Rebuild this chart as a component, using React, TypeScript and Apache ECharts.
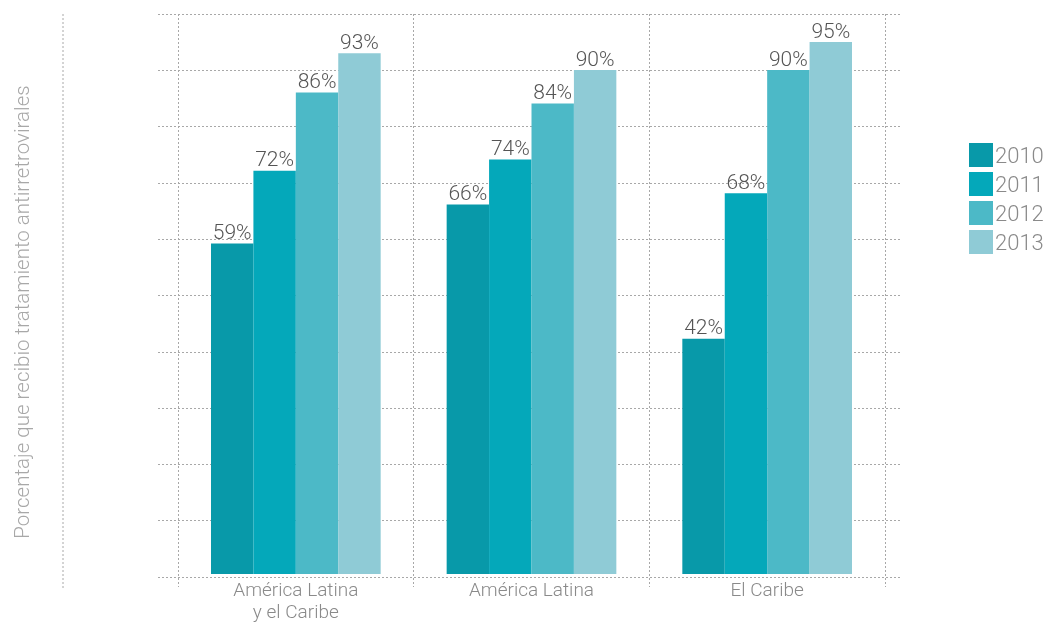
import React, { useEffect, useRef } from "react";
import * as echarts from "echarts";

const categories = ["América Latina\ny el Caribe", "América Latina", "El Caribe"];
const years = ["2010", "2011", "2012", "2013"];
const values2010 = [59, 66, 42];
const values2011 = [72, 74, 68];
const values2012 = [86, 84, 90];
const values2013 = [93, 90, 95];
const colors = ["#0899a9", "#04a8ba", "#4cb9c7", "#8fcbd6"];
const yTitle = "Porcentaje que recibio tratamiento antirretrovirales";

export default function App() {
  const ref = useRef<HTMLDivElement>(null);
  useEffect(() => {
    const chart = echarts.init(ref.current!, null, { renderer: "svg" });
    const seriesData = [values2010, values2011, values2012, values2013];
    const font = "Roboto";
    const grid = "#a8a8a8";
    chart.setOption({
      animation: false,
      color: colors,
      grid: [
        { left: 158, right: 147, top: 14, bottom: 45 },
        { left: 178, right: 162, top: 14, bottom: 45 },
      ],
      xAxis: [
        { type: "value", gridIndex: 0, min: 0, max: 1, show: false },
        {
          type: "category",
          gridIndex: 1,
          data: categories,
          axisLine: { show: false },
          axisTick: { show: true, length: 13, lineStyle: { color: grid, type: [2, 2] } },
          splitLine: { show: true, lineStyle: { color: grid, type: [2, 2] } },
          axisLabel: {
            color: "#8a8a8a",
            fontFamily: font,
            fontWeight: 300,
            fontSize: 19,
            lineHeight: 22,
            margin: 4,
          },
        },
      ],
      yAxis: [
        {
          type: "value",
          gridIndex: 0,
          min: 0,
          max: 100,
          interval: 10,
          axisLine: { show: false },
          axisTick: { show: false },
          axisLabel: { show: false },
          splitLine: { show: true, lineStyle: { color: grid, type: [2, 2] } },
        },
        {
          type: "value",
          gridIndex: 1,
          min: 0,
          max: 100,
          interval: 10,
          show: false,
          splitLine: { show: false },
        },
      ],
      legend: {
        orient: "vertical",
        left: 964,
        top: 138,
        itemWidth: 24,
        itemHeight: 24,
        itemGap: 5,
        icon: "rect",
        data: years,
        textStyle: { color: "#8a8a8a", fontSize: 22, fontFamily: font, fontWeight: 300, padding: [0, 0, 0, -3] },
      },
      graphic: [
        {
          type: "line",
          shape: { x1: 63, y1: 14, x2: 63, y2: 590 },
          style: { stroke: grid, lineWidth: 1, lineDash: [2, 2] },
        },
        {
          type: "text",
          x: 22,
          y: 312,
          rotation: Math.PI / 2,
          style: {
            text: yTitle,
            fill: "#a8a8a8",
            fontSize: 20.5,
            fontFamily: font,
            fontWeight: 300,
            align: "center",
            verticalAlign: "middle",
          },
        },
      ],
      series: years.map((y, i) => ({
        name: y,
        type: "bar",
        xAxisIndex: 1,
        yAxisIndex: 1,
        data: seriesData[i],
        barGap: "0%",
        barCategoryGap: "28%",
        itemStyle: { color: colors[i] },
        label: {
          show: true,
          position: "top",
          distance: 1,
          formatter: "{c}%",
          color: "#555",
          fontSize: 21,
          fontFamily: font,
          fontWeight: 300,
        },
      })),
    });
    return () => chart.dispose();
  }, []);
  return (
    <div
      ref={ref}
      style={{ position: "fixed", left: 0, top: 0, width: 1047, height: 622 }}
    />
  );
}
